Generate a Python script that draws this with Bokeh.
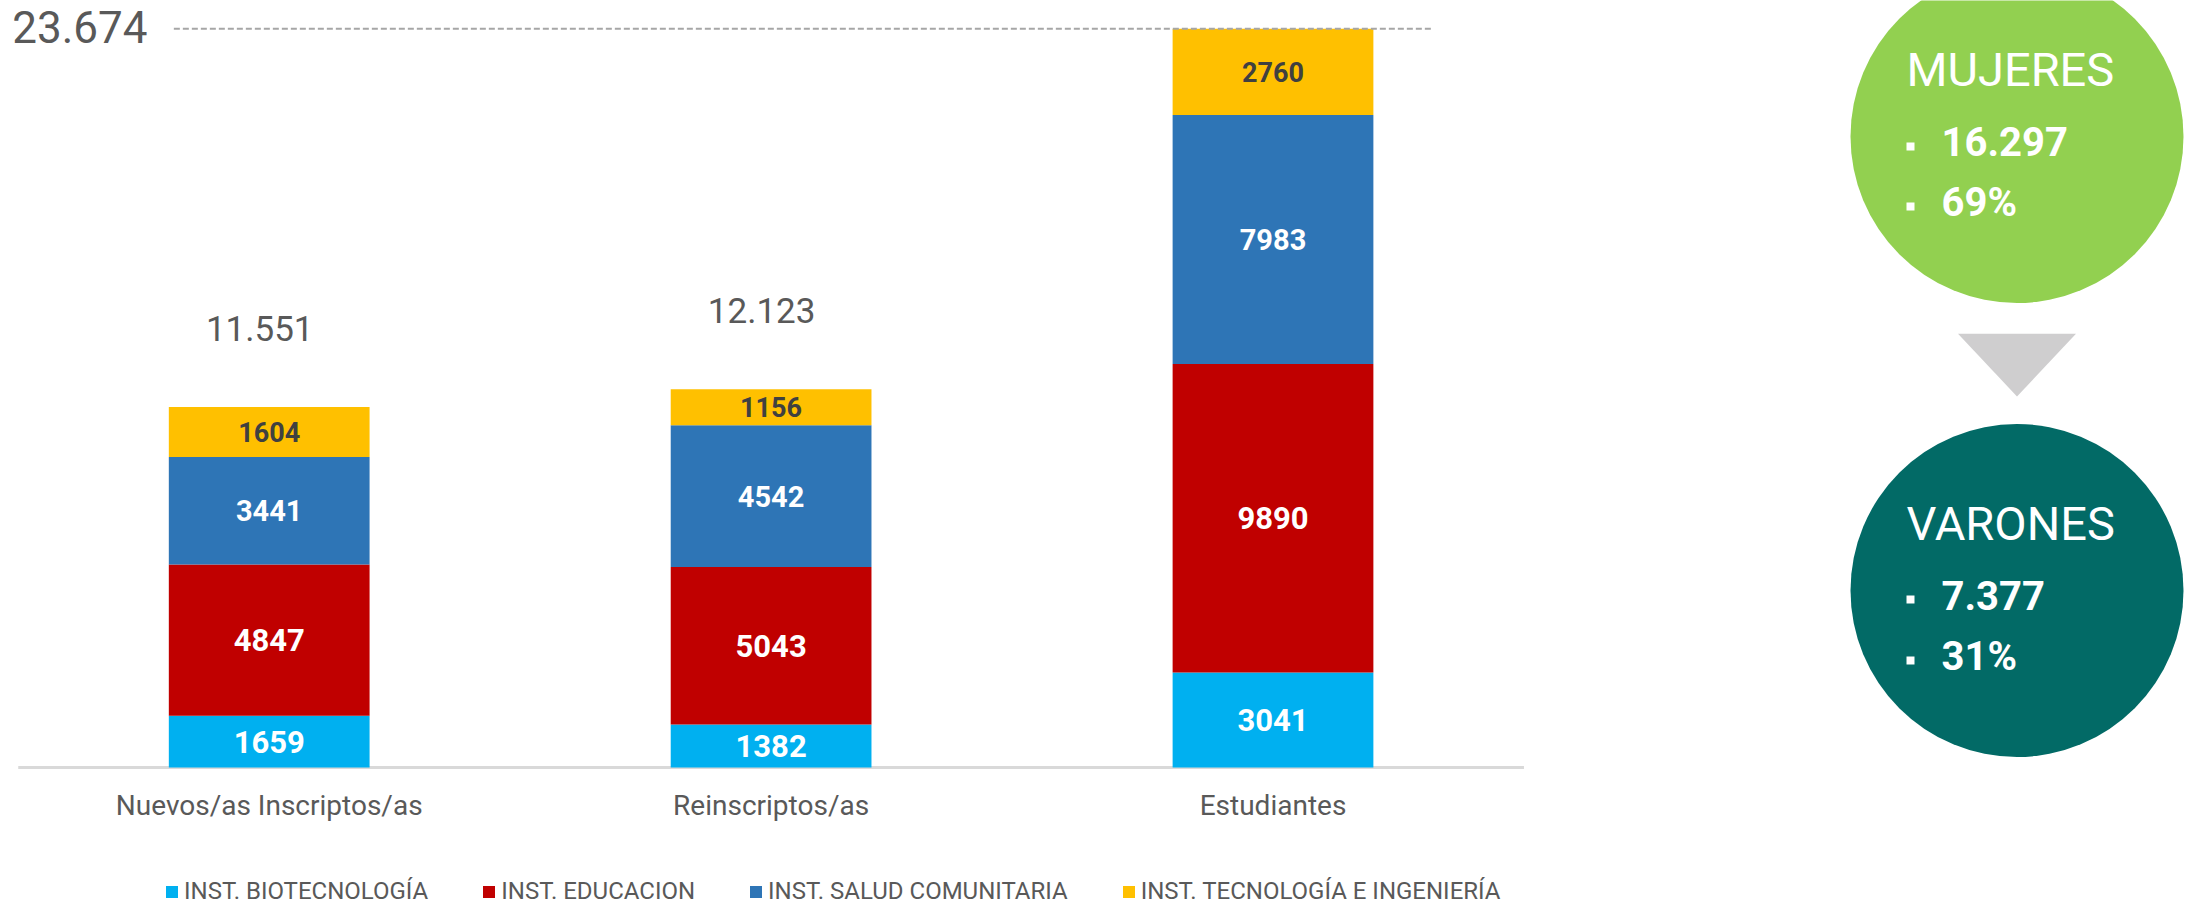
from bokeh.plotting import figure
from bokeh.models import ColumnDataSource, Range1d, Legend, LegendItem
from bokeh.embed import file_html
from bokeh.resources import INLINE
from bokeh.core.properties import value

# ---------------- data ----------------
categories = ["Nuevos/as Inscriptos/as", "Reinscriptos/as", "Estudiantes"]
series_names = ["INST. BIOTECNOLOGÍA", "INST. EDUCACION",
                "INST. SALUD COMUNITARIA", "INST. TECNOLOGÍA E INGENIERÍA"]
biotecnologia = [1659, 1382, 3041]
educacion = [4847, 5043, 9890]
salud_comunitaria = [3441, 4542, 7983]
tecnologia_ingenieria = [1604, 1156, 2760]

genero = ["MUJERES", "VARONES"]
genero_total = [16297, 7377]
genero_pct = [69, 31]

# ---------------- styles / layout ----------------
FONT = value("Roboto")
bar_colors = ["#00B0F0", "#C00000", "#2E75B6", "#FFC000"]
seg_text_colors = ["#FFFFFF", "#FFFFFF", "#FFFFFF", "#404040"]
seg_text_sizes = ["31px", "31px", "29px", "27px"]
GRAY_TEXT = "#595959"
circle_colors = ["#92D050", "#026A66"]

W, H = 2187, 905
BASE_Y = 767.0      # pixel row of value 0
TOP_Y = 28.3        # pixel row of the largest total
FIRST_X = 268.7     # pixel column of first category
STEP_X = 501.9      # pixels between categories


def fmt(v):
    return f"{v:,}".replace(",", ".")


series = [biotecnologia, educacion, salud_comunitaria, tecnologia_ingenieria]
keys = ["s0", "s1", "s2", "s3"]
totals = [sum(vals) for vals in zip(*series)]
max_total = max(totals)
xpos = list(range(len(categories)))

scale = (BASE_Y - TOP_Y) / max_total
x_left = -FIRST_X / STEP_X

p = figure(x_range=Range1d(x_left, x_left + W / STEP_X),
           y_range=Range1d(-(H - BASE_Y) / scale, max_total + TOP_Y / scale),
           width=W, height=H, output_backend="svg", toolbar_location=None,
           x_axis_location=None, y_axis_location=None, min_border=0)
p.outline_line_color = None
p.grid.visible = False
p.background_fill_color = "white"
# pixel-like ranges for the infographic circles on the right
p.extra_x_ranges = {"px": Range1d(0, W)}
p.extra_y_ranges = {"px": Range1d(H, 0)}

data = dict(x=xpos)
for k, vals in zip(keys, series):
    data[k] = vals
src = ColumnDataSource(data)

# baseline
p.segment(x0=[xpos[0] - 0.5], y0=[0], x1=[xpos[-1] + 0.5], y1=[0],
          line_color="#D9D9D9", line_width=3)

renderers = p.vbar_stack(keys, x="x", width=0.4, fill_color=bar_colors,
                         line_color=None, source=src)

# segment labels
bottoms = [0] * len(categories)
for i, vals in enumerate(series):
    mids = [b + v / 2 for b, v in zip(bottoms, vals)]
    p.text(x=xpos, y=mids, text=[str(v) for v in vals],
           text_align="center", text_baseline="middle",
           text_color=seg_text_colors[i], text_font_size=seg_text_sizes[i],
           text_font=FONT, text_font_style="bold")
    bottoms = [b + v for b, v in zip(bottoms, vals)]

# category labels (under the baseline)
p.text(x=xpos, y=[0] * len(xpos), text=categories, y_offset=38,
       text_align="center", text_baseline="middle", text_color=GRAY_TEXT,
       text_font_size="28px", text_font=FONT)

# totals above first two bars
p.text(x=xpos[:2], y=totals[:2], text=[fmt(t) for t in totals[:2]],
       x_offset=-9.5, y_offset=-79, text_align="center", text_baseline="middle",
       text_color=GRAY_TEXT, text_font_size="35px", text_font=FONT)

# max total: dashed reference line + big label on the left
p.segment(x0=[xpos[0] - 0.19], y0=[max_total], x1=[xpos[-1] + 0.32], y1=[max_total],
          line_color="#A6A6A6", line_width=2, line_dash="6 3")
p.text(x=[xpos[0] - 0.5], y=[max_total], text=[fmt(max_total)], x_offset=-6,
       y_offset=-2, text_align="left", text_baseline="middle", text_color=GRAY_TEXT,
       text_font_size="44px", text_font=FONT)

legend = Legend(items=[LegendItem(label=n, renderers=[r]) for n, r in zip(series_names, renderers)],
                orientation="horizontal", location=(164, 0),
                glyph_width=15, glyph_height=15, label_standoff=5, spacing=53,
                padding=0, margin=0, border_line_color=None, background_fill_alpha=0,
                label_text_font_size="24px", label_text_color=GRAY_TEXT,
                label_text_font="Roboto", label_height=15)
p.add_layout(legend)

# ---------------- right side: circles ----------------
cx = 2016.5
cy = [136, 590]
p.circle(x=[cx, cx], y=cy, radius=166.5, fill_color=circle_colors, line_color=None,
         x_range_name="px", y_range_name="px")
p.patch(x=[cx - 59, cx + 59, cx], y=[333.3, 333.3, 396], fill_color="#CFCECF",
        line_color=None, x_range_name="px", y_range_name="px")

p.text(x=[cx - 110.5] * 2, y=[cy[0] - 67, cy[1] - 67], text=genero, text_align="left",
       text_baseline="middle", text_color="white", text_font_size="47px",
       text_font=FONT, x_range_name="px", y_range_name="px")
p.text(x=[cx - 75.5] * 2, y=[cy[0] + 5, cy[1] + 5], text=[fmt(v) for v in genero_total],
       text_align="left", text_baseline="middle", text_color="white",
       text_font_size="40px", text_font=FONT, text_font_style="bold",
       x_range_name="px", y_range_name="px")
p.text(x=[cx - 75.5] * 2, y=[cy[0] + 66, cy[1] + 66], text=[f"{v}%" for v in genero_pct],
       text_align="left", text_baseline="middle", text_color="white",
       text_font_size="40px", text_font=FONT, text_font_style="bold",
       x_range_name="px", y_range_name="px")
p.scatter(x=[cx - 106.5] * 4, y=[cy[0] + 10, cy[0] + 70, cy[1] + 9, cy[1] + 70],
          marker="square", size=8, fill_color="white", line_color=None,
          x_range_name="px", y_range_name="px")

open("out.html", "w").write(file_html(p, INLINE))
